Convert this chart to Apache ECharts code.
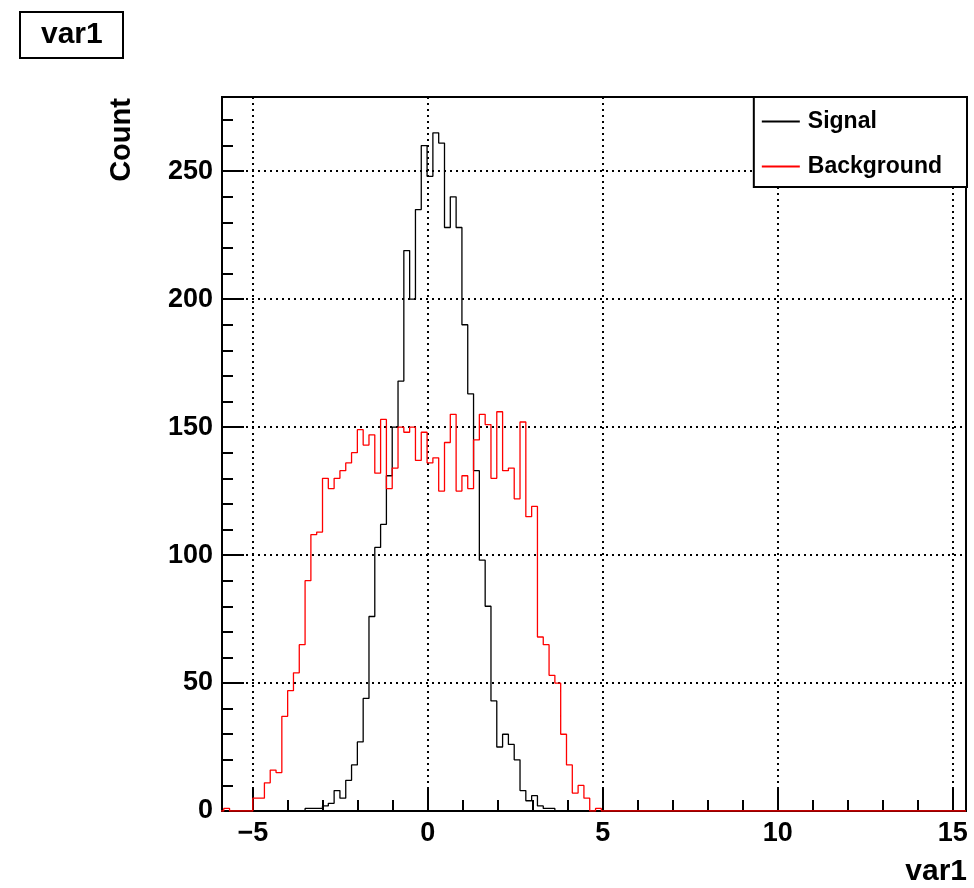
<!DOCTYPE html>
<html><head><meta charset="utf-8">
<script src="https://cdn.jsdelivr.net/npm/echarts@6/dist/echarts.min.js"></script>
<style>html,body{margin:0;padding:0;background:#fff}#c{width:974px;height:888px}</style>
</head><body><div id="c"></div>
<script>
// ---- data (histogram bins) ----
const binStart = -5.996;   // low edge of first bin
const binWidth = 0.166;    // bin width in var1 units
const signalCounts = [
  0,0,0,0,0,0,0,0,0,0, 0,0,0,0,0,1,1,1,2,3,
  8,5,12,18,27,44,76,103,112,131, 150,168,219,200,235,260,248,265,261,228,
  240,228,190,163,133,98,80,43,25,30, 26,20,8,4,6,2,1,1,0,0,
  0,0,0,0,0,0,0
];
const backgroundCounts = [
  0,1,0,0,0,0,5,5,11,16, 15,37,47,54,65,90,108,109,130,126,
  130,133,136,140,149,143,147,132,153,126, 134,150,148,150,137,148,136,138,125,144,
  155,125,131,126,145,155,151,130,156,133, 134,122,152,115,119,68,65,53,50,30,
  18,7,10,5,0,1,0
];
const seriesNames = ['Signal', 'Background'];
const xTickValues = [-5, 0, 5, 10, 15];
const xMinorTickValues = [-5,-4,-3,-2,-1,0,1,2,3,4,5,6,7,8,9,10,11,12,13,14,15];
const xRange = [-5.88, 15.38];
const yRange = [0, 279];
const yTickInterval = 50;
const xTitle = 'var1';
const yTitle = 'Count';
const plotTitle = 'var1';

function histPoints(counts) {
  const pts = counts.map((c, i) => [binStart + i * binWidth, c]);
  pts.push([binStart + counts.length * binWidth, 0]);
  pts.push([xRange[1], 0]);
  return pts;
}

const FONT = 'Liberation Sans, Arial, Helvetica, sans-serif';
const dotted = { color: '#000', width: 2, type: [2, 4] };
const chart = echarts.init(document.getElementById('c'), null, { renderer: 'canvas' });

chart.setOption({
  animation: false,
  backgroundColor: '#fff',
  title: {
    text: plotTitle, left: 20, top: 12,
    borderColor: '#000', borderWidth: 2, padding: [8, 21],
    textStyle: { fontFamily: FONT, fontSize: 30, fontWeight: 'bold', color: '#000' }
  },
  legend: {
    data: seriesNames, orient: 'vertical', right: 7, top: 97,
    backgroundColor: '#fff', borderColor: '#000', borderWidth: 2,
    padding: [13, 25, 9, 8], itemGap: 22, itemWidth: 38, itemHeight: 2, icon: 'rect',
    textStyle: { fontFamily: FONT, fontSize: 23, fontWeight: 'bold', color: '#000', padding: [0, 0, 0, 3] }
  },
  grid: { left: 222, right: 8, top: 97, bottom: 77, show: true, borderColor: '#000', borderWidth: 2, backgroundColor: 'transparent' },
  xAxis: [{
    type: 'value', min: xRange[0], max: xRange[1],
    axisLine: { show: true, onZero: false, lineStyle: { color: '#000', width: 2 } },
    axisTick: { show: true, inside: true, length: 22, customValues: xTickValues, lineStyle: { color: '#000', width: 2 } },
    axisLabel: { customValues: xTickValues, margin: 9, fontFamily: FONT, fontSize: 27, fontWeight: 'bold', color: '#000',
      formatter: v => String(v).replace('-', '\u2212') },
    splitLine: { show: true, lineStyle: dotted }
  }, {
    type: 'value', min: xRange[0], max: xRange[1], position: 'bottom',
    axisLine: { show: false, onZero: false },
    axisTick: { show: true, inside: true, length: 11, customValues: xMinorTickValues, lineStyle: { color: '#000', width: 2 } },
    axisLabel: { show: false },
    splitLine: { show: false }
  }],
  yAxis: {
    type: 'value', min: yRange[0], max: yRange[1], interval: yTickInterval, position: 'left',
    axisLine: { show: true, onZero: false, lineStyle: { color: '#000', width: 2 } },
    axisTick: { show: true, inside: true, length: 22, lineStyle: { color: '#000', width: 2 } },
    minorTick: { show: true, splitNumber: 5, length: 11, lineStyle: { color: '#000', width: 2 } },
    axisLabel: { margin: 9, fontFamily: FONT, fontSize: 27, fontWeight: 'bold', color: '#000',
      showMaxLabel: false },
    splitLine: { show: true, lineStyle: dotted }
  },
  graphic: [
    { type: 'text', x: 122, y: 140, rotation: Math.PI / 2,
      style: { text: yTitle, font: 'bold 29px ' + FONT, fill: '#000', align: 'center', verticalAlign: 'middle' } },
    { type: 'text', x: 967, y: 872,
      style: { text: xTitle, font: 'bold 30px ' + FONT, fill: '#000', align: 'right', verticalAlign: 'middle' } }
  ],
  series: [
    { name: seriesNames[0], type: 'line', step: 'end', symbol: 'none', xAxisIndex: 0,
      data: histPoints(signalCounts), lineStyle: { color: '#000', width: 1.3 }, itemStyle: { color: '#000' } },
    { name: seriesNames[1], type: 'line', step: 'end', symbol: 'none', xAxisIndex: 0,
      data: histPoints(backgroundCounts), lineStyle: { color: '#ff0000', width: 1.3 }, itemStyle: { color: '#ff0000' } }
  ]
});
</script></body></html>
